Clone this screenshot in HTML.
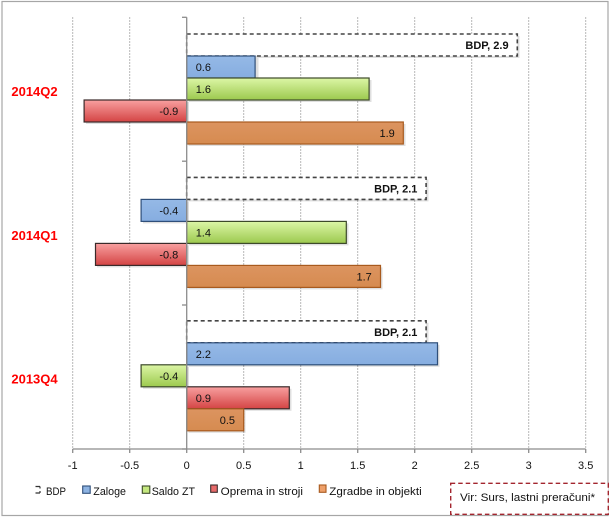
<!DOCTYPE html>
<html>
<head>
<meta charset="utf-8">
<style>
html,body{margin:0;padding:0;background:#fff;}
svg{display:block;}
text{font-family:"Liberation Sans",Arial,sans-serif;}
</style>
</head>
<body>
<svg width="610" height="518" viewBox="0 0 610 518" xmlns="http://www.w3.org/2000/svg">
<defs>
<linearGradient id="gG" x1="0" y1="0" x2="0" y2="1">
<stop offset="0" stop-color="#dcf6a6"/><stop offset="1" stop-color="#9cc94e"/>
</linearGradient>
<linearGradient id="gR" x1="0" y1="0" x2="0" y2="1">
<stop offset="0" stop-color="#f8a0a0"/><stop offset="1" stop-color="#d44444"/>
</linearGradient>
<linearGradient id="gB" x1="0" y1="0" x2="0" y2="1">
<stop offset="0" stop-color="#95b9e6"/><stop offset="1" stop-color="#86ade0"/>
</linearGradient>
<linearGradient id="gO" x1="0" y1="0" x2="0" y2="1">
<stop offset="0" stop-color="#dc9460"/><stop offset="1" stop-color="#d68b50"/>
</linearGradient>
</defs>

<!-- outer border -->
<rect x="2" y="1.5" width="606" height="514" fill="#fff" stroke="#a6a6a6" stroke-width="1.2"/>

<!-- gridlines -->
<g stroke="#a0a0a0" stroke-width="1" stroke-dasharray="1.5,1.5">
<line x1="72.7" y1="17.3" x2="72.7" y2="449"/>
<line x1="129.7" y1="17.3" x2="129.7" y2="449"/>
<line x1="243.7" y1="17.3" x2="243.7" y2="449"/>
<line x1="300.7" y1="17.3" x2="300.7" y2="449"/>
<line x1="357.7" y1="17.3" x2="357.7" y2="449"/>
<line x1="414.7" y1="17.3" x2="414.7" y2="449"/>
<line x1="471.7" y1="17.3" x2="471.7" y2="449"/>
<line x1="528.7" y1="17.3" x2="528.7" y2="449"/>
<line x1="585.7" y1="17.3" x2="585.7" y2="449"/>
</g>

<!-- shadows -->
<g fill="#000" opacity="0.12">
<rect x="188.5" y="36" width="331" height="22"/>
<rect x="188.5" y="58" width="70" height="22"/>
<rect x="188.5" y="80" width="183" height="22"/>
<rect x="86" y="102" width="103" height="22"/>
<rect x="188.5" y="124" width="217" height="22"/>
<rect x="188.5" y="179.4" width="240" height="22"/>
<rect x="143" y="201.4" width="46" height="22"/>
<rect x="188.5" y="223.4" width="160" height="22"/>
<rect x="97" y="245.4" width="92" height="22"/>
<rect x="188.5" y="267.4" width="194" height="22"/>
<rect x="188.5" y="322.8" width="240" height="22"/>
<rect x="188.5" y="344.8" width="251" height="22"/>
<rect x="143" y="366.8" width="46" height="22"/>
<rect x="188.5" y="388.8" width="103" height="22"/>
<rect x="188.5" y="410.8" width="57" height="22"/>
</g>

<!-- Q2 -->
<rect x="186.7" y="34" width="330.6" height="22" fill="#fff" stroke="#444" stroke-width="1.6" stroke-dasharray="4,3"/>
<rect x="186.7" y="56" width="68.4" height="22" fill="url(#gB)" stroke="#2f4f7a" stroke-width="1.2"/>
<rect x="186.7" y="78" width="182.4" height="22" fill="url(#gG)" stroke="#3d4a2a" stroke-width="1.2"/>
<rect x="84.1" y="100" width="102.6" height="22" fill="url(#gR)" stroke="#3a2a2a" stroke-width="1.2"/>
<rect x="186.7" y="122" width="216.6" height="22" fill="url(#gO)" stroke="#a85a1e" stroke-width="1.2"/>

<!-- Q1 -->
<rect x="186.7" y="177.4" width="239.4" height="22" fill="#fff" stroke="#444" stroke-width="1.6" stroke-dasharray="4,3"/>
<rect x="141.1" y="199.4" width="45.6" height="22" fill="url(#gB)" stroke="#2f4f7a" stroke-width="1.2"/>
<rect x="186.7" y="221.4" width="159.6" height="22" fill="url(#gG)" stroke="#3d4a2a" stroke-width="1.2"/>
<rect x="95.5" y="243.4" width="91.2" height="22" fill="url(#gR)" stroke="#3a2a2a" stroke-width="1.2"/>
<rect x="186.7" y="265.4" width="193.8" height="22" fill="url(#gO)" stroke="#a85a1e" stroke-width="1.2"/>

<!-- Q4 -->
<rect x="186.7" y="320.8" width="239.4" height="22" fill="#fff" stroke="#444" stroke-width="1.6" stroke-dasharray="4,3"/>
<rect x="186.7" y="342.8" width="250.8" height="22" fill="url(#gB)" stroke="#2f4f7a" stroke-width="1.2"/>
<rect x="141.1" y="364.8" width="45.6" height="22" fill="url(#gG)" stroke="#3d4a2a" stroke-width="1.2"/>
<rect x="186.7" y="386.8" width="102.6" height="22" fill="url(#gR)" stroke="#3a2a2a" stroke-width="1.2"/>
<rect x="186.7" y="408.8" width="57" height="22" fill="url(#gO)" stroke="#a85a1e" stroke-width="1.2"/>

<!-- axes -->
<g stroke="#8c8c8c" stroke-width="1.3">
<line x1="186.7" y1="17.3" x2="186.7" y2="449"/>
<line x1="72.7" y1="449" x2="585.7" y2="449"/>
<line x1="182" y1="17.3" x2="186.7" y2="17.3"/>
<line x1="182" y1="161.2" x2="186.7" y2="161.2"/>
<line x1="182" y1="305" x2="186.7" y2="305"/>
<line x1="182" y1="449" x2="186.7" y2="449"/>
<line x1="72.7" y1="449" x2="72.7" y2="453"/>
<line x1="129.7" y1="449" x2="129.7" y2="453"/>
<line x1="186.7" y1="449" x2="186.7" y2="453"/>
<line x1="243.7" y1="449" x2="243.7" y2="453"/>
<line x1="300.7" y1="449" x2="300.7" y2="453"/>
<line x1="357.7" y1="449" x2="357.7" y2="453"/>
<line x1="414.7" y1="449" x2="414.7" y2="453"/>
<line x1="471.7" y1="449" x2="471.7" y2="453"/>
<line x1="528.7" y1="449" x2="528.7" y2="453"/>
<line x1="585.7" y1="449" x2="585.7" y2="453"/>
</g>

<!-- value labels -->
<g font-size="11" fill="#111">
<text x="508.6" y="49" text-anchor="end" font-weight="bold">BDP, 2.9</text>
<text x="195.7" y="71">0.6</text>
<text x="195.7" y="93">1.6</text>
<text x="178.3" y="115" text-anchor="end">-0.9</text>
<text x="394.8" y="137" text-anchor="end">1.9</text>

<text x="417.4" y="192.4" text-anchor="end" font-weight="bold">BDP, 2.1</text>
<text x="178.3" y="214.4" text-anchor="end">-0.4</text>
<text x="195.7" y="236.4">1.4</text>
<text x="178.3" y="258.4" text-anchor="end">-0.8</text>
<text x="371.8" y="280.4" text-anchor="end">1.7</text>

<text x="417.4" y="335.8" text-anchor="end" font-weight="bold">BDP, 2.1</text>
<text x="195.7" y="357.8">2.2</text>
<text x="178.3" y="379.8" text-anchor="end">-0.4</text>
<text x="195.7" y="401.8">0.9</text>
<text x="235" y="423.8" text-anchor="end">0.5</text>
</g>

<!-- category labels -->
<g font-size="13" font-weight="bold" fill="#ff0000" text-anchor="middle">
<text x="34.5" y="96">2014Q2</text>
<text x="34.5" y="240">2014Q1</text>
<text x="34.5" y="383.5">2013Q4</text>
</g>

<!-- x tick labels -->
<g font-size="11" fill="#111" text-anchor="middle">
<text x="72.7" y="469">-1</text>
<text x="129.7" y="469">-0.5</text>
<text x="186.7" y="469">0</text>
<text x="243.7" y="469">0.5</text>
<text x="300.7" y="469">1</text>
<text x="357.7" y="469">1.5</text>
<text x="414.7" y="469">2</text>
<text x="471.7" y="469">2.5</text>
<text x="528.7" y="469">3</text>
<text x="585.7" y="469">3.5</text>
</g>

<!-- legend -->
<g>
<path d="M35.5 486.5 H40 M35.5 493 H40 M40 486.5 V488.5 M40 491 V493" stroke="#333" stroke-width="1.2" fill="none"/>
<rect x="82.7" y="486" width="7.5" height="7.3" fill="#8db3e2" stroke="#2f4f7a" stroke-width="1.1"/>
<rect x="142.3" y="486" width="7.5" height="7.3" fill="#c4e77f" stroke="#3d4a2a" stroke-width="1.1"/>
<rect x="210.7" y="485" width="6.6" height="7.3" fill="#e86a6a" stroke="#3a2a2a" stroke-width="1.1"/>
<rect x="319.3" y="485" width="6.7" height="7.3" fill="#eea06a" stroke="#a85a1e" stroke-width="1.1"/>
</g>
<g font-size="11" fill="#111">
<text x="46" y="495" textLength="20" lengthAdjust="spacingAndGlyphs">BDP</text>
<text x="93.3" y="495" textLength="32.7" lengthAdjust="spacingAndGlyphs">Zaloge</text>
<text x="151.7" y="495" textLength="43.3" lengthAdjust="spacingAndGlyphs">Saldo ZT</text>
<text x="220.7" y="495" textLength="82.3" lengthAdjust="spacingAndGlyphs">Oprema in stroji</text>
<text x="329.3" y="495" textLength="92.4" lengthAdjust="spacingAndGlyphs">Zgradbe in objekti</text>
</g>

<!-- source box -->
<rect x="450.7" y="483.3" width="157.6" height="31" fill="#fff" stroke="#a3262f" stroke-width="1.4" stroke-dasharray="4.5,3"/>
<text x="460" y="501" font-size="11" fill="#111" textLength="135" lengthAdjust="spacingAndGlyphs">Vir: Surs, lastni preračuni*</text>
</svg>
</body>
</html>
